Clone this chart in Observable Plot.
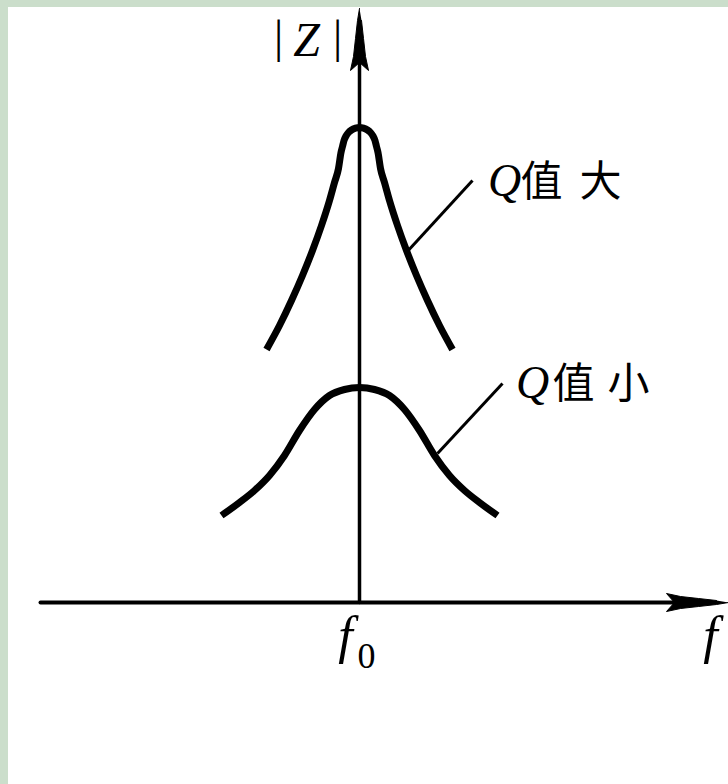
<!DOCTYPE html>
<html>
<head>
<meta charset="utf-8">
<script src="https://cdn.jsdelivr.net/npm/d3@7"></script>
<script src="https://cdn.jsdelivr.net/npm/@observablehq/plot@0.6"></script>
<style>
  html, body { margin: 0; padding: 0; background: #cbdecb; width: 728px; height: 784px; overflow: hidden; }
  #chart { position: absolute; left: 8px; top: 7px; width: 720px; height: 777px; background: white; }
  #chart svg { display: block; }
</style>
</head>
<body>
<div id="chart"></div>
<script>
// ---- data (f relative to f0, |Z| in arbitrary units) ----
// high-Q curve (half-widths from the edge to the peak)
const qHighHalfF = [0.93, 0.80, 0.68, 0.57, 0.47, 0.38, 0.30, 0.25, 0.21, 0.185, 0.17, 0.155, 0.135, 0.11, 0.08, 0.04, 0];
const qHighHalfZ = [2.53, 2.77, 3.02, 3.27, 3.52, 3.77, 4.02, 4.20, 4.34, 4.50, 4.56, 4.62, 4.665, 4.70, 4.725, 4.743, 4.75];
// low-Q curve
const qLowHalfF = [1.38, 1.20, 1.05, 0.90, 0.75, 0.60, 0.45, 0.30, 0.15, 0];
const qLowHalfZ = [0.87, 1.00, 1.12, 1.27, 1.47, 1.72, 1.93, 2.07, 2.13, 2.15];

// axes extents
const xAxisF = [-3.19, 3.69];   // f axis, tip at right
const yAxisZ = [0, 5.94];       // |Z| axis, tip at top
// arrowhead outline (along, across) in axis units
const headAlong  = [0, 0.12, 0.30, 0.48, 0.62, 0.54, 0.62, 0.48, 0.30, 0.12];
const headAcross = [0, -0.02, -0.04, -0.06, -0.09, 0, 0.09, 0.06, 0.04, 0.02];

// leader lines [f1, z1, f2, z2]
const leaderHigh = [0.46, 3.49, 1.13, 4.22];
const leaderLow  = [0.78, 1.49, 1.43, 2.19];

// labels
const italicText = ["Z", "f", "f", "Q", "Q"];
const italicF    = [-0.53, -0.14, 3.51, 1.45, 1.73];
const italicZ    = [5.47, -0.50, -0.50, 4.07, 2.05];
const italicSize = [48, 52, 52, 46, 46];
const uprightText = ["|", "|", "0"];
const uprightF    = [-0.81, -0.22, 0.07];
const uprightZ    = [5.51, 5.51, -0.65];
const uprightSize = [46, 46, 36];
const cjkText = ["值", "大", "值", "小"];
const cjkF    = [1.82, 2.41, 2.14, 2.69];
const cjkZ    = [4.07, 4.07, 2.05, 2.05];

// ---- build tables ----
function mirror(halfF, halfZ) {
  const left = halfF.map((f, i) => ({f: -f, z: halfZ[i]}));
  const right = [];
  for (let i = halfF.length - 2; i >= 0; --i) right.push({f: halfF[i], z: halfZ[i]});
  return left.concat(right);
}
const qHigh = mirror(qHighHalfF, qHighHalfZ);
const qLow = mirror(qLowHalfF, qLowHalfZ);

const xAxisLine = [{f: xAxisF[0], z: 0}, {f: xAxisF[1] - 0.4, z: 0}];
const yAxisLine = [{f: 0, z: yAxisZ[0]}, {f: 0, z: yAxisZ[1] - 0.4}];
const xHead = headAlong.map((a, i) => ({f: xAxisF[1] - a, z: headAcross[i]}));
const yHead = headAlong.map((a, i) => ({f: headAcross[i], z: yAxisZ[1] - a}));
const leaders = [leaderHigh, leaderLow].map(([f1, z1, f2, z2]) => ({f1, z1, f2, z2}));

function rows(text, f, z, size) { return text.map((t, i) => ({t, f: f[i], z: z[i], s: size ? size[i] : 42})); }
const italicRows = rows(italicText, italicF, italicZ, italicSize);
const uprightRows = rows(uprightText, uprightF, uprightZ, uprightSize);
const cjkRows = rows(cjkText, cjkF, cjkZ);

const textMarks = [];
for (const r of italicRows) textMarks.push(Plot.text([r], {x: "f", y: "z", text: "t", fontFamily: "Liberation Serif", fontStyle: "italic", fontSize: r.s, lineAnchor: "bottom", textAnchor: "middle", fill: "black"}));
for (const r of uprightRows) textMarks.push(Plot.text([r], {x: "f", y: "z", text: "t", fontFamily: "Liberation Serif", fontSize: r.s, lineAnchor: "bottom", textAnchor: "middle", fill: "black"}));
textMarks.push(Plot.text(cjkRows, {x: "f", y: "z", text: "t", fontFamily: "Noto Sans CJK SC", fontSize: 42, lineAnchor: "bottom", textAnchor: "middle", fill: "black"}));

const chart = Plot.plot({
  width: 720,
  height: 777,
  margin: 0,
  x: {domain: [-3.51, 3.69], axis: null},
  y: {domain: [-1.82, 5.95], axis: null},
  style: {background: "white", overflow: "visible"},
  marks: [
    Plot.line(xAxisLine, {x: "f", y: "z", stroke: "black", strokeWidth: 4}),
    Plot.line(yAxisLine, {x: "f", y: "z", stroke: "black", strokeWidth: 3.5}),
    Plot.line(xHead, {x: "f", y: "z", fill: "black", stroke: "black", strokeWidth: 1}),
    Plot.line(yHead, {x: "f", y: "z", fill: "black", stroke: "black", strokeWidth: 1}),
    Plot.line(qHigh, {x: "f", y: "z", curve: "monotone-x", stroke: "black", strokeWidth: 7, strokeLinecap: "butt"}),
    Plot.line(qLow, {x: "f", y: "z", curve: "monotone-x", stroke: "black", strokeWidth: 7, strokeLinecap: "butt"}),
    Plot.link(leaders, {x1: "f1", y1: "z1", x2: "f2", y2: "z2", stroke: "black", strokeWidth: 3}),
    ...textMarks
  ]
});
document.getElementById("chart").append(chart);
</script>
</body>
</html>
